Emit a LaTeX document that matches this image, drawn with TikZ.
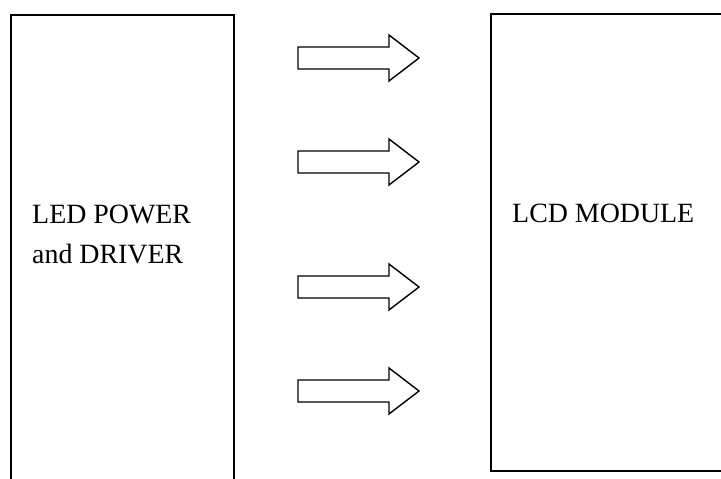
\documentclass[tikz,border=0pt]{standalone}
\usepackage{fontspec}
\setmainfont{Liberation Serif}
\usetikzlibrary{positioning}

\begin{document}
\begin{tikzpicture}[
    x=0.03cm, y=-0.03cm,
    block/.style={
        rectangle, draw=black, line width=1.4pt,
        outer sep=0pt, inner sep=0pt, anchor=north west,
    },
    label/.style={
        font=\fontsize{23.8}{34}\selectfont, text=black,
        inner sep=0pt, anchor=north west, align=left,
    },
    bigarrow/.style={
        draw=black, fill=white, line width=1.2pt, line join=miter,
    },
]

% =============== Page frame ===============
\clip (0, 0) rectangle (721, 479);

% =============== Blocks ===============
\node[block, minimum width=6.69cm, minimum height=14.7cm]
    (driver) at (11, 15) {};
\node[block, minimum width=7.5cm, minimum height=13.71cm]
    (lcd) at (491, 14) {};

% =============== Block texts ===============
\node[label] (drivertext) at (32, 205) {LED POWER\\and DRIVER};
\node[label] (lcdtext) at (512, 204) {LCD MODULE};

% =============== Hollow arrows between blocks ===============
% shaft 298..389, head to 419; shaft half-height 11, head 23
\foreach \ay in {58, 162, 287, 391} {
    \draw[bigarrow]
        (298, \ay-11) -- (389, \ay-11) -- (389, \ay-23)
        -- (419, \ay) -- (389, \ay+23) -- (389, \ay+11)
        -- (298, \ay+11) -- cycle;
}

\end{tikzpicture}
\end{document}
